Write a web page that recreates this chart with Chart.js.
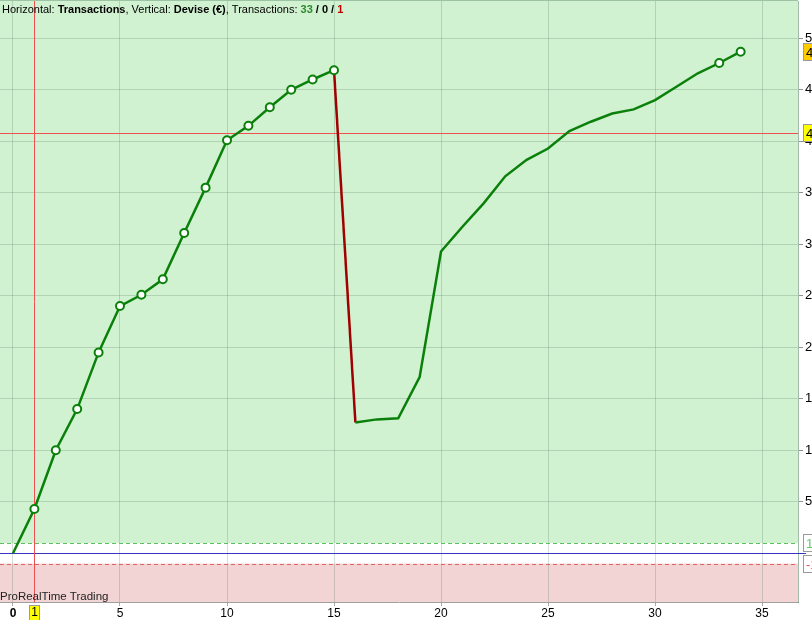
<!DOCTYPE html>
<html>
<head>
<meta charset="utf-8">
<script src="https://cdn.jsdelivr.net/npm/chart.js@4.4.1/dist/chart.umd.min.js"></script>
<style>
html,body{margin:0;padding:0;overflow:hidden;background:#fff}
#wrap{width:860px;height:620px}
</style>
</head>
<body>
<div id="wrap"><canvas id="equityChart" width="860" height="620"></canvas></div>
<script>
// trade number and equity (€) after each trade
const trades = [0,1,2,3,4,5,6,7,8,9,10,11,12,13,14,15,16,17,18,19,20,21,22,23,24,25,26,27,28,29,30,31,32,33,34];
const equity = [0,43,100,140,195,240,251,266,311,355,401,415,433,450,460,469,
                127,130,131,171,293,317,340,366,382,393,410,419,427,431,440,453,466,476,487];
const markedTrades = [1,2,3,4,5,6,7,8,9,10,11,12,13,14,15,33,34];
const xTicks = [0,5,10,15,20,25,30,35];
const yTicks = [50,100,150,200,250,300,350,400,450,500];
const winBand = 10, lossBand = -10;
const cursorTrade = 1, cursorLevel = 408;

const FONT = 'Liberation Sans, Arial, sans-serif';
const GREEN_BG = '#d1f2d1', RED_BG = '#f2d4d4';

const overlay = {
  id: 'overlay',
  beforeDraw(chart) {
    const {ctx, chartArea: a, scales: {y}} = chart;
    ctx.save();
    ctx.fillStyle = '#fff';
    ctx.fillRect(0, 0, chart.width, chart.height);
    const yWin = y.getPixelForValue(winBand), yLoss = y.getPixelForValue(lossBand);
    ctx.fillStyle = GREEN_BG;
    ctx.fillRect(a.left, a.top, a.width, yWin - a.top);
    ctx.fillStyle = RED_BG;
    ctx.fillRect(a.left, yLoss, a.width, a.bottom - yLoss);
    ctx.restore();
  },
  beforeDatasetsDraw(chart) {
    const {ctx, chartArea: a, scales: {x, y}} = chart;
    ctx.save();
    // win / loss bands
    ctx.lineWidth = 1;
    ctx.setLineDash([4, 3]);
    ctx.strokeStyle = '#5cc05c';
    let py = Math.round(y.getPixelForValue(winBand)) + 0.5;
    ctx.beginPath(); ctx.moveTo(a.left, py); ctx.lineTo(a.right, py); ctx.stroke();
    ctx.strokeStyle = '#de6464';
    py = Math.round(y.getPixelForValue(lossBand)) + 0.5;
    ctx.beginPath(); ctx.moveTo(a.left, py); ctx.lineTo(a.right, py); ctx.stroke();
    ctx.setLineDash([]);
    // zero line
    ctx.strokeStyle = '#3535c0';
    py = Math.round(y.getPixelForValue(0)) + 0.5;
    ctx.beginPath(); ctx.moveTo(a.left, py); ctx.lineTo(a.right + 8, py); ctx.stroke();
    // cursor
    ctx.strokeStyle = '#f05050';
    const cx = Math.round(x.getPixelForValue(cursorTrade)) + 0.5;
    ctx.beginPath(); ctx.moveTo(cx, a.top); ctx.lineTo(cx, a.bottom); ctx.stroke();
    py = Math.round(y.getPixelForValue(cursorLevel)) + 0.5;
    ctx.beginPath(); ctx.moveTo(a.left, py); ctx.lineTo(a.right, py); ctx.stroke();
    ctx.restore();
  },
  afterDraw(chart) {
    const {ctx, chartArea: a, scales: {x, y}} = chart;
    ctx.save();
    // top border
    ctx.strokeStyle = '#9cc4a4';
    ctx.beginPath(); ctx.moveTo(a.left, a.top - 0.5); ctx.lineTo(a.right, a.top - 0.5); ctx.stroke();

    // header
    const parts = [
      ['Horizontal: ', false, '#000'], ['Transactions', true, '#000'],
      [', Vertical: ', false, '#000'], ['Devise (€)', true, '#000'],
      [', Transactions: ', false, '#000'], ['33', true, '#2a8a2a'],
      [' / ', true, '#000'], ['0', true, '#000'], [' / ', true, '#000'], ['1', true, '#c00000']
    ];
    let tx = 2;
    ctx.textBaseline = 'alphabetic';
    ctx.textAlign = 'left';
    parts.forEach(([t, b, c]) => {
      ctx.font = (b ? 'bold ' : '') + '11px ' + FONT;
      ctx.fillStyle = c;
      ctx.fillText(t, tx, 12.5);
      tx += ctx.measureText(t).width;
    });
    ctx.font = '11.5px ' + FONT;
    ctx.fillStyle = '#222';
    ctx.fillText('ProRealTime Trading', 0, a.bottom - 2);

    // right-hand value tags
    const tag = (val, text, fill, color) => {
      const cy = Math.round(y.getPixelForValue(val));
      ctx.fillStyle = fill;
      ctx.fillRect(803.5, cy - 8.5, 30, 17);
      ctx.strokeStyle = '#9a9a9a';
      ctx.strokeRect(803.5, cy - 8.5, 30, 17);
      ctx.fillStyle = color;
      ctx.font = '13px ' + FONT;
      ctx.textBaseline = 'middle';
      ctx.fillText(text, 806, cy + 1);
    };
    tag(equity[equity.length - 1], String(equity[equity.length - 1]), '#ffcc00', '#000');
    tag(cursorLevel, String(cursorLevel), '#ffff00', '#000');
    tag(winBand, String(winBand), '#fff', '#66c866');
    tag(lossBand, String(lossBand), '#fff', '#e05050');

    // cursor tag on x axis
    const cx = Math.round(x.getPixelForValue(cursorTrade));
    ctx.fillStyle = '#ffff00';
    ctx.fillRect(cx - 4.5, a.bottom + 3.5, 10, 17);
    ctx.strokeStyle = '#9a9a9a';
    ctx.strokeRect(cx - 4.5, a.bottom + 3.5, 10, 17);
    ctx.fillStyle = '#000';
    ctx.font = '12px ' + FONT;
    ctx.textAlign = 'center';
    ctx.textBaseline = 'middle';
    ctx.fillText(String(cursorTrade), cx + 0.5, a.bottom + 11);
    ctx.restore();
  }
};

const gridColor = 'rgba(80,125,90,0.25)';

new Chart(document.getElementById('equityChart'), {
  type: 'line',
  data: {
    datasets: [{
      data: trades.map((t, i) => ({x: t, y: equity[i]})),
      borderColor: '#0a800a',
      borderWidth: 2.5,
      tension: 0,
      segment: {
        borderColor: c => c.p1.parsed.y < c.p0.parsed.y ? '#a00000' : undefined
      },
      pointRadius: c => markedTrades.includes(c.dataIndex) ? 4 : 0,
      pointBackgroundColor: '#fff',
      pointBorderColor: '#0a800a',
      pointBorderWidth: 2
    }]
  },
  options: {
    responsive: false,
    animation: false,
    devicePixelRatio: 1,
    layout: {autoPadding: false, padding: {top: 1, left: 0, right: 0, bottom: 0}},
    plugins: {legend: {display: false}, tooltip: {enabled: false}},
    scales: {
      x: {
        type: 'linear',
        min: -0.607,
        max: 36.68,
        afterBuildTicks: s => { s.ticks = xTicks.map(v => ({value: v})); },
        afterFit: s => { s.height = 18; s.paddingLeft = 0; s.paddingRight = 0; },
        grid: {color: gridColor, tickColor: '#a8a8a8', tickLength: 4},
        border: {color: '#a0a0a0'},
        ticks: {
          color: '#000', padding: 0, maxRotation: 0, autoSkip: false,
          font: c => ({family: FONT, size: 12, weight: c.tick && c.tick.value === 0 ? 'bold' : 'normal'})
        }
      },
      y: {
        position: 'right',
        min: -47.3,
        max: 536.2,
        afterBuildTicks: s => { s.ticks = yTicks.map(v => ({value: v})); },
        afterFit: s => { s.width = 62; s.paddingTop = 0; s.paddingBottom = 0; },
        grid: {color: gridColor, tickColor: '#909090', tickLength: 5},
        border: {color: 'rgba(70,120,85,0.5)'},
        ticks: {color: '#000', padding: 2, font: {family: FONT, size: 13}}
      }
    }
  },
  plugins: [overlay]
});
</script>
</body>
</html>
